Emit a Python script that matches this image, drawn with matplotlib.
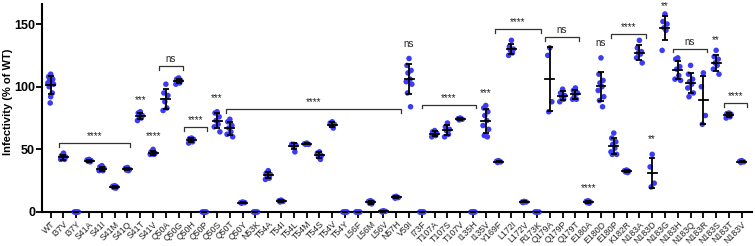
import numpy as np
import matplotlib.pyplot as plt

plt.rcParams['font.family'] = ['Liberation Sans', 'DejaVu Sans']

labels = ['WT', 'I37V', 'I37Y', 'S41A', 'S41I', 'S41M', 'S41Q', 'S41T', 'S41V',
          'Q50A', 'Q50G', 'Q50H', 'Q50P', 'Q50S', 'Q50T', 'Q50Y', 'N53K', 'T54A',
          'T54I', 'T54L', 'T54M', 'T54S', 'T54V', 'T54Y', 'L56F', 'L56M', 'L56V',
          'N57H', 'V59I', 'I73F', 'T107A', 'T107S', 'T107V', 'I135H', 'I135V',
          'Y169F', 'L172I', 'L172V', 'R173K', 'Q179A', 'Q179P', 'Q179T', 'E180A',
          'E180D', 'E180P', 'K182R', 'N183A', 'N183D', 'N183G', 'N183H', 'N183Q',
          'N183R', 'N183S', 'N183T', 'N183V']

values = [
    [110, 108, 106, 105, 104, 103, 102, 100, 95, 92, 87],  # WT
    [47, 45, 44, 43, 42, 42],          # I37V
    [0, 0, 0, 0, 0],                   # I37Y
    [42, 41.5, 41, 40.5, 40],          # S41A
    [37, 36, 35, 34, 33, 33],          # S41I
    [21, 20.5, 20, 19.5, 19],          # S41M
    [35.5, 35, 34, 33.5, 33],          # S41Q
    [80, 79, 77, 76, 75, 73],          # S41T
    [50, 48, 47, 46.5, 46, 46],        # S41V
    [102, 95, 93, 88, 83, 81],         # Q50A
    [107, 106, 105, 104, 103, 102],    # Q50G
    [59, 58.5, 58, 57, 56, 55],        # Q50H
    [0, 0, 0, 0, 0],                   # Q50P
    [80, 79, 76, 73, 70, 68, 64],      # Q50S
    [74, 72, 69, 67, 64, 62, 60],      # Q50T
    [8, 7.5, 7.5, 7],                  # Q50Y
    [0, 0, 0, 0, 0],                   # N53K
    [33, 31, 30, 29, 27, 26],          # T54A
    [9.5, 9, 8.5, 8],                  # T54I
    [54, 54, 53.5, 53, 48],            # T54L
    [55, 54.5, 54, 54],                # T54M
    [48, 47, 45, 44, 42],              # T54S
    [72, 71, 70, 69, 67],              # T54V
    [0, 0, 0, 0, 0],                   # T54Y
    [0, 0, 0, 0, 0],                   # L56F
    [9, 8.5, 8, 7, 6.5],               # L56M
    [1, 0.5, 0.5, 0],                  # L56V
    [12.5, 12, 11.5, 11],              # N57H
    [122.5, 117, 113, 111, 106, 104, 102, 95, 84],  # V59I
    [0, 0, 0, 0, 0],                   # I73F
    [65, 64, 63, 62, 61, 60],          # T107A
    [71, 68, 66, 65, 62, 60],          # T107S
    [75, 74.5, 74, 73.5],              # T107V
    [0, 0, 0, 0, 0],                   # I135H
    [85, 83, 80, 77, 73, 69, 66, 61, 60],  # I135V
    [41, 40.5, 40, 39.5],              # Y169F
    [137, 132, 130, 129, 127, 125],    # L172I
    [8.5, 8, 8, 7.5],                  # L172V
    [0, 0, 0, 0],                      # R173K
    [131, 125, 88, 80],                # Q179A
    [98, 95, 93, 92, 90, 88],          # Q179P
    [99, 97, 95, 92, 90, 90],          # Q179T
    [9, 8.5, 8, 7.5, 7],               # E180A
    [123, 110, 105, 103, 100, 97, 92, 89, 84],  # E180D
    [63, 59, 56, 54, 51, 48, 46, 46],  # E180P
    [33.5, 33, 32.5, 32, 31.5],        # K182R
    [137, 131, 128, 127, 126, 123, 119],  # N183A
    [46, 36, 23, 20],                  # N183D
    [158, 152, 150, 147, 145, 129],    # N183G
    [123, 122, 116, 114, 109, 106, 105],  # N183H
    [117, 110, 106, 104, 102, 99, 95, 92],  # N183Q
    [111, 100, 77, 70],                # N183R
    [129, 124, 122, 119, 117, 114, 110],  # N183S
    [79, 78.5, 78, 77, 76, 75],        # N183T
    [41, 40.5, 40, 39.5],              # N183V
]

# significance brackets: (start, end, height, text)
brackets = [(0.67, 6.2, 55, '****'), (8.5, 10.3, 116.5, 'ns'), (10.4, 12.2, 68, '****'),
            (13.7, 27.4, 82.3, '****'), (29.0, 33.2, 85.7, '****'), (34.7, 38.3, 145.8, '****'),
            (38.6, 41.3, 139.7, 'ns'), (43.8, 46.5, 141.8, '****'), (48.6, 51.25, 130.4, 'ns'),
            (52.6, 54.4, 86.8, '****')]
# single-group labels: (position, height, text)
stars = [(7, 85, '***'), (8, 57, '****'), (13, 87, '***'), (28, 130, 'ns'),
         (34, 91, '***'), (42, 15.5, '****'), (43, 131, 'ns'), (47, 54, '**'),
         (48, 160, '**'), (52, 133.5, '**')]

fig = plt.figure(figsize=(7.55, 2.46), dpi=100)
ax = fig.add_axes([42 / 755, 34 / 246, 710 / 755, 208 / 246])

offs_pattern = [0, -0.16, 0.16, -0.08, 0.08, -0.22, 0.22, -0.12, 0.12, 0.0, -0.04]
for i, v in enumerate(values):
    v = np.array(v, dtype=float)
    offs = np.array(offs_pattern[:len(v)])
    ax.scatter(i + offs, v, s=16, color='#3b3bf5', edgecolors='none', zorder=3, clip_on=False)
    m = v.mean()
    sd = v.std(ddof=1)
    ax.errorbar(i, m, yerr=sd, color='black', lw=1.3, capsize=2.5, capthick=1.3, zorder=4)
    ax.plot([i - 0.35, i + 0.35], [m, m], color='black', lw=1.3, zorder=4)

for x0, x1, h, t in brackets:
    ax.plot([x0, x0, x1, x1], [h - 3, h, h, h - 3], color='#333333', lw=0.9)
    ax.text((x0 + x1) / 2, h + 1.5, t, ha='center', va='bottom', fontsize=7, color='#222222')
for x, h, t in stars:
    ax.text(x, h, t, ha='center', va='bottom', fontsize=7, color='#222222')

ax.set_xlim(-0.68, 54.8)
ax.set_ylim(0, 166)
ax.set_yticks([0, 50, 100, 150])
ax.set_xticks(range(len(labels)))
ax.set_xticklabels(labels, rotation=45, ha='right', rotation_mode='anchor', fontsize=6.3,
                   color='#222222')
for t in ax.get_yticklabels():
    t.set_fontweight('bold')
    t.set_fontsize(9)
ax.set_ylabel('Infectivity (% of WT)', fontsize=8, fontweight='bold')
ax.yaxis.set_label_coords(-0.041, 0.53)
ax.spines['top'].set_visible(False)
ax.spines['right'].set_visible(False)
ax.spines['left'].set_linewidth(1.5)
ax.spines['bottom'].set_linewidth(1.5)
ax.tick_params(axis='both', width=1.3, length=4, pad=1.5)
ax.tick_params(axis='y', pad=1)

fig.savefig('out.png', dpi=100)
